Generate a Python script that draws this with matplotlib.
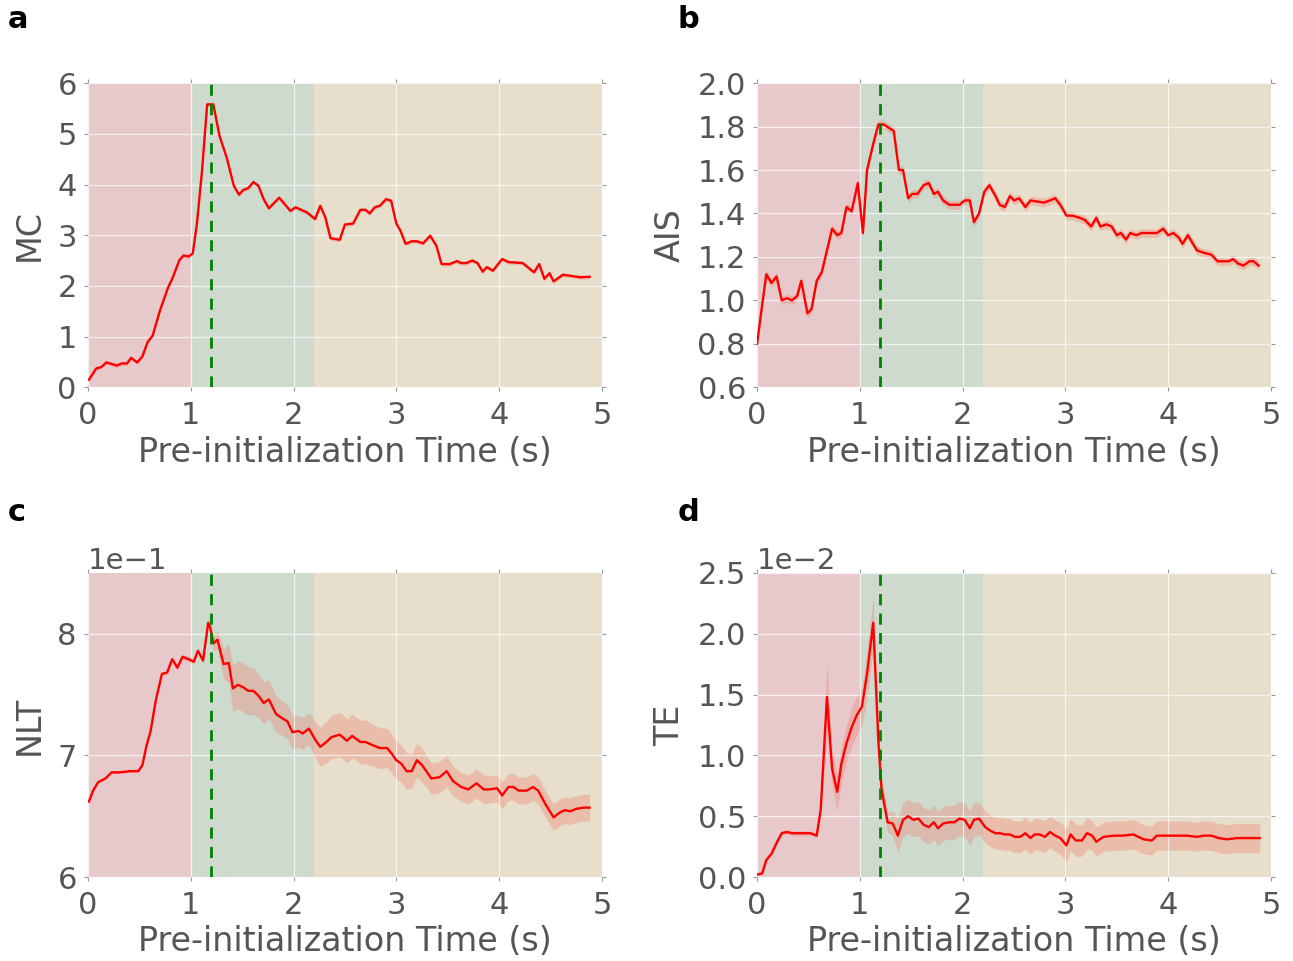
import matplotlib
matplotlib.use("Agg")
import matplotlib.pyplot as plt
import numpy as np

# Panel a: MC
a_x = [0.01, 0.08, 0.13, 0.18, 0.28, 0.33, 0.38, 0.42, 0.48, 0.53, 0.58, 0.63, 0.70, 0.78,
       0.82, 0.89, 0.93, 0.98, 1.02, 1.06, 1.11, 1.16, 1.22, 1.28, 1.35, 1.42, 1.47, 1.51,
       1.56, 1.61, 1.66, 1.71, 1.76, 1.86, 1.97, 2.02, 2.13, 2.21, 2.26, 2.31, 2.36, 2.45,
       2.50, 2.58, 2.65, 2.70, 2.74, 2.79, 2.84, 2.90, 2.95, 3.00, 3.04, 3.09, 3.15, 3.20,
       3.26, 3.33, 3.39, 3.44, 3.52, 3.59, 3.63, 3.68, 3.74, 3.79, 3.84, 3.88, 3.94, 4.03,
       4.09, 4.23, 4.32, 4.34, 4.39, 4.44, 4.49, 4.53, 4.62, 4.79, 4.88]
a_y = [0.15, 0.37, 0.40, 0.49, 0.43, 0.47, 0.47, 0.58, 0.49, 0.61, 0.89, 1.02, 1.51, 1.97,
       2.14, 2.51, 2.60, 2.58, 2.64, 3.22, 4.27, 5.58, 5.58, 4.96, 4.53, 3.97, 3.80, 3.89,
       3.93, 4.05, 3.97, 3.71, 3.53, 3.74, 3.48, 3.55, 3.45, 3.32, 3.58, 3.35, 2.94, 2.91,
       3.21, 3.23, 3.50, 3.50, 3.43, 3.55, 3.58, 3.71, 3.68, 3.23, 3.09, 2.83, 2.88, 2.88,
       2.84, 2.99, 2.79, 2.43, 2.43, 2.49, 2.45, 2.45, 2.50, 2.45, 2.28, 2.37, 2.30, 2.53,
       2.47, 2.45, 2.30, 2.27, 2.43, 2.14, 2.25, 2.09, 2.22, 2.17, 2.18]

# Panel b: AIS
b_x = [0.00, 0.05, 0.09, 0.14, 0.19, 0.24, 0.29, 0.34, 0.39, 0.43, 0.49, 0.53, 0.58, 0.63,
       0.73, 0.78, 0.82, 0.87, 0.92, 0.98, 1.03, 1.07, 1.13, 1.18, 1.23, 1.33, 1.38, 1.42,
       1.47, 1.51, 1.56, 1.62, 1.67, 1.72, 1.76, 1.81, 1.87, 1.92, 1.97, 2.02, 2.07, 2.11,
       2.16, 2.21, 2.26, 2.32, 2.36, 2.41, 2.46, 2.50, 2.55, 2.61, 2.66, 2.79, 2.85, 2.90,
       2.95, 3.01, 3.07, 3.14, 3.19, 3.25, 3.30, 3.34, 3.40, 3.45, 3.50, 3.54, 3.59, 3.63,
       3.69, 3.74, 3.81, 3.89, 3.95, 4.00, 4.05, 4.10, 4.14, 4.19, 4.28, 4.34, 4.42, 4.48,
       4.54, 4.59, 4.63, 4.68, 4.73, 4.79, 4.83, 4.88]
b_y = [0.80, 0.98, 1.12, 1.08, 1.11, 1.00, 1.01, 1.00, 1.02, 1.09, 0.94, 0.96, 1.09, 1.13,
       1.33, 1.30, 1.31, 1.43, 1.41, 1.54, 1.31, 1.60, 1.72, 1.81, 1.81, 1.78, 1.60, 1.60,
       1.47, 1.49, 1.49, 1.53, 1.54, 1.49, 1.50, 1.46, 1.44, 1.44, 1.44, 1.46, 1.46, 1.36,
       1.40, 1.50, 1.53, 1.48, 1.44, 1.43, 1.48, 1.46, 1.47, 1.43, 1.46, 1.45, 1.46, 1.47,
       1.44, 1.39, 1.39, 1.38, 1.37, 1.34, 1.38, 1.34, 1.35, 1.34, 1.30, 1.31, 1.28, 1.31,
       1.30, 1.31, 1.31, 1.31, 1.33, 1.30, 1.31, 1.29, 1.26, 1.30, 1.23, 1.22, 1.21, 1.18,
       1.18, 1.18, 1.19, 1.17, 1.16, 1.18, 1.18, 1.16]

# Panel c: NLT
c_x = [0.01, 0.05, 0.10, 0.17, 0.23, 0.31, 0.41, 0.49, 0.53, 0.57, 0.61, 0.66, 0.72, 0.77,
       0.82, 0.87, 0.92, 0.98, 1.03, 1.07, 1.12, 1.17, 1.19, 1.22, 1.26, 1.32, 1.37, 1.41,
       1.46, 1.51, 1.56, 1.61, 1.66, 1.71, 1.76, 1.83, 1.88, 1.94, 1.99, 2.05, 2.09, 2.15,
       2.21, 2.26, 2.32, 2.37, 2.45, 2.52, 2.57, 2.65, 2.70, 2.78, 2.84, 2.91, 2.95, 3.00,
       3.05, 3.10, 3.15, 3.20, 3.25, 3.30, 3.34, 3.42, 3.49, 3.55, 3.63, 3.70, 3.78, 3.85,
       3.91, 3.98, 4.03, 4.09, 4.14, 4.19, 4.27, 4.33, 4.38, 4.45, 4.53, 4.59, 4.64, 4.69,
       4.75, 4.82, 4.88]
c_y = [0.662, 0.671, 0.678, 0.681, 0.686, 0.686, 0.687, 0.687, 0.692, 0.708, 0.720, 0.745,
       0.767, 0.768, 0.779, 0.772, 0.781, 0.779, 0.777, 0.786, 0.778, 0.809, 0.805, 0.792,
       0.795, 0.775, 0.776, 0.755, 0.758, 0.756, 0.753, 0.753, 0.749, 0.743, 0.746, 0.734,
       0.731, 0.728, 0.719, 0.720, 0.718, 0.722, 0.713, 0.707, 0.711, 0.715, 0.717, 0.712,
       0.716, 0.711, 0.711, 0.708, 0.706, 0.706, 0.702, 0.696, 0.693, 0.687, 0.687, 0.696,
       0.692, 0.686, 0.681, 0.682, 0.687, 0.679, 0.674, 0.672, 0.677, 0.672, 0.672, 0.673,
       0.667, 0.674, 0.674, 0.671, 0.671, 0.674, 0.671, 0.660, 0.649, 0.653, 0.655, 0.654,
       0.656, 0.657, 0.657]
c_err = [0.001, 0.001, 0.001, 0.001, 0.001, 0.001, 0.001, 0.001, 0.001, 0.001, 0.001, 0.001,
         0.001, 0.002, 0.002, 0.002, 0.002, 0.002, 0.002, 0.002, 0.003, 0.004, 0.005, 0.006,
         0.008, 0.012, 0.016, 0.019, 0.020, 0.020, 0.020, 0.019, 0.018, 0.017, 0.016, 0.015,
         0.014, 0.014, 0.014, 0.013, 0.013, 0.013, 0.015, 0.016, 0.017, 0.018, 0.018, 0.018,
         0.018, 0.018, 0.018, 0.017, 0.017, 0.016, 0.016, 0.016, 0.015, 0.015, 0.014, 0.014,
         0.014, 0.013, 0.013, 0.013, 0.013, 0.012, 0.012, 0.012, 0.012, 0.012, 0.011, 0.011,
         0.011, 0.011, 0.011, 0.011, 0.011, 0.011, 0.011, 0.011, 0.011, 0.011, 0.011, 0.011,
         0.011, 0.011, 0.011]

# Panel d: TE
d_x = [0.00, 0.05, 0.09, 0.14, 0.19, 0.24, 0.29, 0.34, 0.42, 0.52, 0.58, 0.62, 0.68, 0.73,
       0.78, 0.82, 0.87, 0.92, 0.97, 1.02, 1.07, 1.13, 1.18, 1.21, 1.27, 1.32, 1.37, 1.42,
       1.47, 1.52, 1.57, 1.62, 1.67, 1.72, 1.76, 1.81, 1.87, 1.92, 1.97, 2.02, 2.07, 2.11,
       2.16, 2.22, 2.27, 2.32, 2.36, 2.41, 2.46, 2.51, 2.56, 2.61, 2.66, 2.70, 2.75, 2.80,
       2.85, 2.90, 2.95, 3.01, 3.05, 3.10, 3.16, 3.21, 3.26, 3.30, 3.37, 3.47, 3.56, 3.66,
       3.71, 3.76, 3.84, 3.89, 3.99, 4.08, 4.18, 4.28, 4.34, 4.42, 4.49, 4.57, 4.67, 4.76,
       4.89]
d_y = [0.0002, 0.0003, 0.0014, 0.0019, 0.0028, 0.0036, 0.0037, 0.0036, 0.0036, 0.0036,
       0.0034, 0.0056, 0.0148, 0.0089, 0.0070, 0.0093, 0.0110, 0.0123, 0.0133, 0.0140,
       0.0167, 0.0209, 0.0112, 0.0073, 0.0045, 0.0044, 0.0034, 0.0047, 0.0050, 0.0047,
       0.0048, 0.0043, 0.0041, 0.0045, 0.0040, 0.0044, 0.0045, 0.0045, 0.0048, 0.0047,
       0.0040, 0.0047, 0.0048, 0.0041, 0.0038, 0.0036, 0.0036, 0.0035, 0.0035, 0.0033,
       0.0033, 0.0036, 0.0032, 0.0035, 0.0035, 0.0033, 0.0037, 0.0034, 0.0032, 0.0026,
       0.0035, 0.0030, 0.0030, 0.0036, 0.0034, 0.0029, 0.0033, 0.0034, 0.0034, 0.0035,
       0.0033, 0.0031, 0.0030, 0.0034, 0.0034, 0.0034, 0.0034, 0.0033, 0.0034, 0.0034,
       0.0032, 0.0031, 0.0032, 0.0032, 0.0032]
d_err = [0.0001, 0.0001, 0.0001, 0.0001, 0.0002, 0.0002, 0.0002, 0.0002, 0.0002, 0.0002,
         0.0002, 0.0005, 0.0030, 0.0015, 0.0015, 0.0015, 0.0015, 0.0016, 0.0016, 0.0016,
         0.0020, 0.0022, 0.0015, 0.0010, 0.0008, 0.0010, 0.0014, 0.0014, 0.0014, 0.0014,
         0.0014, 0.0014, 0.0014, 0.0014, 0.0014, 0.0014, 0.0014, 0.0014, 0.0014, 0.0014,
         0.0014, 0.0014, 0.0013, 0.0013, 0.0013, 0.0013, 0.0013, 0.0013, 0.0013, 0.0013,
         0.0013, 0.0013, 0.0013, 0.0013, 0.0013, 0.0013, 0.0013, 0.0013, 0.0013, 0.0014,
         0.0013, 0.0013, 0.0013, 0.0013, 0.0012, 0.0012, 0.0012, 0.0012, 0.0012, 0.0012,
         0.0012, 0.0012, 0.0012, 0.0012, 0.0012, 0.0012, 0.0012, 0.0012, 0.0012, 0.0012,
         0.0012, 0.0012, 0.0012, 0.0012, 0.0012]

a_err = [0.04] * len(a_x)
b_err = [0.02] * len(b_x)

phases = [(0, 1.0, "#e7c9cb"), (1.0, 2.2, "#cddacd"), (2.2, 5.0, "#e7decc")]
peak_time = 1.2

panels = [
    ("a", "MC", a_x, a_y, a_err, (0, 6), np.arange(0, 7, 1), False),
    ("b", "AIS", b_x, b_y, b_err, (0.6, 2.0), np.arange(0.6, 2.01, 0.2), False),
    ("c", "NLT", c_x, c_y, c_err, (0.6, 0.85), [0.6, 0.7, 0.8], True),
    ("d", "TE", d_x, d_y, d_err, (0, 0.025), np.arange(0, 0.0251, 0.005), True),
]

plt.rcParams["font.family"] = "DejaVu Sans"
fig = plt.figure(figsize=(12.93, 9.61), dpi=100)

positions = [(0.068, 0.597), (0.5855, 0.597), (0.068, 0.0874), (0.5855, 0.0874)]
letter_pos = [(0.006, 0.995), (0.524, 0.995), (0.006, 0.482), (0.524, 0.482)]
gray = "#555555"

for (letter, ylabel, x, y, err, ylim, yticks, sci), pos, lp in zip(panels, positions, letter_pos):
    ax = fig.add_axes([pos[0], pos[1], 0.3975, 0.3165])
    for x0, x1, col in phases:
        ax.axvspan(x0, x1, color=col, lw=0, zorder=0)
    x = np.array(x)
    y = np.array(y)
    err = np.array(err)
    ax.fill_between(x, y - err, y + err, color="#f08070", alpha=0.35, lw=0, zorder=2)
    ax.plot(x, y, color="red", lw=1.7, zorder=3)
    ax.axvline(peak_time, color="green", ls="--", lw=2, dashes=(4, 3), zorder=4)
    ax.set_xlim(0, 5)
    ax.set_ylim(*ylim)
    ax.set_yticks(yticks)
    ax.set_xticks(range(6))
    ax.grid(True, color="white", lw=0.9, alpha=0.7, zorder=1)
    ax.set_axisbelow(False)
    for s in ax.spines.values():
        s.set_visible(False)
    ax.tick_params(direction="out", length=3, color="#999999", labelcolor=gray,
                   labelsize=22, top=True, right=True, pad=5)
    ax.tick_params(axis="x", pad=7)
    if sci:
        ax.ticklabel_format(axis="y", style="sci", scilimits=(0, 0))
        ax.yaxis.get_offset_text().set_fontsize(21)
        ax.yaxis.get_offset_text().set_color(gray)
    else:
        ax.yaxis.set_major_formatter(matplotlib.ticker.FormatStrFormatter(
            "%.1f" if letter == "b" else "%d"))
    ax.set_xlabel("Pre-initialization Time (s)", fontsize=24, color=gray, labelpad=4)
    ax.set_ylabel(ylabel, fontsize=24, color=gray, labelpad=8)
    fig.text(lp[0], lp[1], letter, fontsize=22, fontweight="bold", va="top")

fig.savefig("out.png", dpi=100)
